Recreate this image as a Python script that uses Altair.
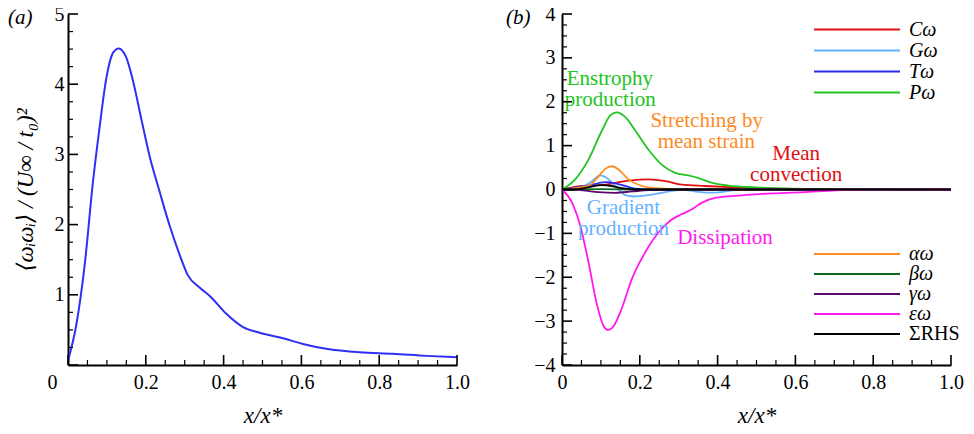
import altair as alt
import pandas as pd

FONT = "Liberation Serif, Times New Roman, Tinos, DejaVu Serif, serif"

# ---------------- panel (a): enstrophy ----------------
a_x = [0.0, 0.0216, 0.043, 0.064, 0.0815, 0.099, 0.116, 0.130, 0.150, 0.167, 0.189, 0.21,
       0.236, 0.261, 0.287, 0.308, 0.339, 0.365, 0.407, 0.45, 0.493, 0.553, 0.604, 0.664,
       0.75, 0.835, 0.921, 1.0]
a_y = [0.06, 0.58, 1.43, 2.6, 3.40, 4.10, 4.45, 4.51, 4.38, 4.05, 3.49, 2.97,
       2.46, 1.99, 1.57, 1.28, 1.10, 0.98, 0.73, 0.54, 0.46, 0.38, 0.30, 0.23,
       0.18, 0.16, 0.13, 0.11]

# ---------------- panel (b): budget terms ----------------
C_x = [0.0, 0.051, 0.111, 0.171, 0.223, 0.266, 0.308, 0.368, 0.445, 0.55, 0.7, 1.0]
C_y = [0.0, 0.08, 0.11, 0.20, 0.23, 0.19, 0.11, 0.08, 0.05, 0.02, 0.0, 0.0]

G_x = [0.0, 0.051, 0.077, 0.098, 0.12, 0.141, 0.163, 0.184, 0.223, 0.26, 0.308, 0.34,
       0.37, 0.394, 0.43, 0.47, 1.0]
G_y = [0.0, 0.06, 0.19, 0.32, 0.23, 0.04, -0.13, -0.16, -0.13, -0.07, -0.01, -0.04,
       -0.07, -0.07, -0.03, 0.0, 0.0]

T_x = [0.0, 0.034, 0.068, 0.111, 0.137, 0.163, 0.188, 0.25, 1.0]
T_y = [0.0, 0.04, 0.09, 0.17, 0.14, 0.08, 0.02, 0.0, 0.0]

P_x = [0.0, 0.034, 0.068, 0.103, 0.124, 0.141, 0.163, 0.188, 0.223, 0.257, 0.291, 0.325,
       0.351, 0.386, 0.428, 0.497, 0.6, 0.7, 1.0]
P_y = [0.0, 0.23, 0.68, 1.35, 1.69, 1.76, 1.65, 1.35, 0.90, 0.56, 0.38, 0.32,
       0.26, 0.15, 0.09, 0.05, 0.02, 0.0, 0.0]

alpha_x = [0.0, 0.068, 0.094, 0.111, 0.128, 0.146, 0.171, 0.206, 0.24, 0.3, 0.4, 1.0]
alpha_y = [0.0, 0.08, 0.30, 0.47, 0.53, 0.45, 0.23, 0.08, 0.03, 0.01, 0.0, 0.0]

beta_x = [0.0, 0.1, 0.2, 0.3, 1.0]
beta_y = [0.0, 0.01, 0.0, 0.0, 0.0]

gamma_x = [0.0, 0.043, 0.094, 0.137, 0.18, 0.223, 0.3, 1.0]
gamma_y = [0.0, -0.01, -0.06, -0.075, -0.045, -0.015, 0.0, 0.0]

eps_x = [0.0, 0.0257, 0.047, 0.068, 0.09, 0.107, 0.118, 0.133, 0.154, 0.18, 0.214, 0.248,
         0.283, 0.308, 0.334, 0.36, 0.394, 0.454, 0.54, 0.625, 0.75, 1.0]
eps_y = [0.0, -0.30, -0.83, -1.65, -2.63, -3.11, -3.2, -3.11, -2.70, -2.03, -1.43, -0.98,
         -0.68, -0.56, -0.45, -0.30, -0.19, -0.14, -0.09, -0.06, -0.01, 0.0]

rhs_x = [0.0, 0.034, 0.068, 0.101, 0.128, 0.154, 0.188, 1.0]
rhs_y = [0.0, 0.0, 0.05, 0.10, 0.08, 0.03, 0.0, 0.0]

names1 = ["Cω", "Gω", "Tω", "Pω"]
colors1 = ["#e01010", "#66b2ff", "#2a2af0", "#22c422"]
names2 = ["αω", "βω", "γω", "εω", "ΣRHS"]
colors2 = ["#ff8a1e", "#0b6b1b", "#5a0a6a", "#ff19f0", "#000000"]

ann_text = ["Enstrophy", "production", "Stretching by", "mean strain", "Mean", "convection",
            "Gradient", "production", "Dissipation"]
ann_x = [0.123, 0.124, 0.372, 0.371, 0.602, 0.602, 0.158, 0.158, 0.419]
ann_y = [2.51, 2.03, 1.56, 1.09, 0.81, 0.33, -0.43, -0.91, -1.11]
ann_col = ["#22c422", "#22c422", "#ff8a1e", "#ff8a1e", "#e01010", "#e01010",
           "#66b2ff", "#66b2ff", "#ff19f0"]

# axis tick positions
x_major = [0.0, 0.2, 0.4, 0.6, 0.8, 1.0]
x_minor = [0.05, 0.1, 0.15, 0.25, 0.3, 0.35, 0.45, 0.5, 0.55, 0.65, 0.7, 0.75, 0.85, 0.9, 0.95]
ya_major = [0, 1, 2, 3, 4, 5]
ya_minor = [k * 0.25 for k in range(21) if k % 4 != 0]
yb_major = [-4, -3, -2, -1, 0, 1, 2, 3, 4]
yb_minor = [-4 + k * 0.25 for k in range(33) if k % 4 != 0]

W, H = 389, 351
MAJ, MIN = 10, 5

xs = alt.Scale(domain=[0, 1], nice=False, zero=False)
ysa = alt.Scale(domain=[0, 5], nice=False, zero=False)
ysb = alt.Scale(domain=[-4, 4], nice=False, zero=False)

AX = dict(grid=False, ticks=False, domain=True, domainColor="black", domainWidth=2,
          labelFont=FONT, labelFontSize=20, labelColor="black", titleColor="black",
          labelOverlap=False)


def tick_layers(ys, ymaj, ymin):
    layers = []
    for vals, L, w in [(ymaj, MAJ, 1.6), (ymin, MIN, 1.2)]:
        layers.append(
            alt.Chart(pd.DataFrame({"v": vals})).mark_rule(color="black", strokeWidth=w).encode(
                y=alt.Y("v:Q", scale=ys), x=alt.value(0), x2=alt.value(L)))
    for vals, L, w in [(x_major, MAJ, 1.6), (x_minor, MIN, 1.2)]:
        layers.append(
            alt.Chart(pd.DataFrame({"v": vals})).mark_rule(color="black", strokeWidth=w).encode(
                x=alt.X("v:Q", scale=xs), y=alt.value(H), y2=alt.value(H - L)))
    return layers


def x_axis(zero_shift):
    return alt.Axis(values=x_major, title="x/x*", titleFont=FONT, titleFontSize=23,
                    titleFontStyle="italic", titleFontWeight="normal", titlePadding=12,
                    labelExpr="datum.value == 0 ? '0' : format(datum.value, '.1f')",
                    labelOffset={"condition": {"test": "datum.value === 0", "value": zero_shift},
                                 "value": 0},
                    labelFlush=False, labelPadding=7, **AX)


# ---- panel (a)
df_a = pd.DataFrame({"x": a_x, "y": a_y})
line_a = alt.Chart(df_a).mark_line(interpolate="monotone", color="#2f2ff5", strokeWidth=2,
                                   clip=True).encode(
    x=alt.X("x:Q", scale=xs, axis=x_axis(-16)),
    y=alt.Y("y:Q", scale=ysa,
            axis=alt.Axis(values=[1, 2, 3, 4, 5], format="d", title="⟨ωᵢωᵢ⟩ / (U∞ / t₀)²",
                          titleFont=FONT, titleFontSize=23, titleFontStyle="italic",
                          titleFontWeight="normal", titlePadding=17, labelPadding=4, **AX)))
lab_a = alt.Chart(pd.DataFrame({"t": ["(a)"]})).mark_text(
    font=FONT, fontSize=21, fontStyle="italic", align="left", baseline="middle", color="black"
).encode(text="t:N", x=alt.value(-60), y=alt.value(4))

panel_a = alt.layer(line_a, *tick_layers(ysa, ya_major, ya_minor), lab_a).properties(
    width=W, height=H)

# ---- panel (b)
rows1 = []
for n, xx, yy in zip(names1, [C_x, G_x, T_x, P_x], [C_y, G_y, T_y, P_y]):
    rows1 += [{"s": n, "x": a, "y": b} for a, b in zip(xx, yy)]
rows2 = []
for n, xx, yy in zip(names2, [alpha_x, beta_x, gamma_x, eps_x, rhs_x],
                     [alpha_y, beta_y, gamma_y, eps_y, rhs_y]):
    rows2 += [{"s": n, "x": a, "y": b} for a, b in zip(xx, yy)]
df1 = pd.DataFrame(rows1)
df2 = pd.DataFrame(rows2)

leg_common = dict(orient="none", title=None, symbolType="stroke", symbolSize=7396,
                  symbolStrokeWidth=2, labelFont=FONT, labelFontSize=20,
                  labelOffset=8, labelColor="black", rowPadding=0, labelLimit=200)

lines1 = alt.Chart(df1).mark_line(interpolate="monotone", strokeWidth=1.8, clip=True).encode(
    x=alt.X("x:Q", scale=xs, axis=x_axis(0)),
    y=alt.Y("y:Q", scale=ysb, axis=alt.Axis(values=yb_major, format="d", title=None,
                                            labelPadding=7, **AX)),
    color=alt.Color("s:N", scale=alt.Scale(domain=names1, range=colors1), sort=names1,
                    legend=alt.Legend(legendX=251, legendY=5, clipHeight=21,
                                      labelFontStyle="italic", **leg_common)),
)
lines2 = alt.Chart(df2).mark_line(interpolate="monotone", strokeWidth=1.8, clip=True).encode(
    x=alt.X("x:Q", scale=xs),
    y=alt.Y("y:Q", scale=ysb),
    stroke=alt.Stroke("s:N", scale=alt.Scale(domain=names2, range=colors2), sort=names2,
                      legend=alt.Legend(
                          legendX=251, legendY=230, clipHeight=20,
                          labelFontStyle={"expr": "datum.label === 'ΣRHS' ? 'normal' : 'italic'"},
                          **leg_common)),
)
df_ann = pd.DataFrame({"t": ann_text, "x": ann_x, "y": ann_y, "c": ann_col})
ann = alt.Chart(df_ann).mark_text(font=FONT, fontSize=21, align="center",
                                  baseline="middle").encode(
    x=alt.X("x:Q", scale=xs), y=alt.Y("y:Q", scale=ysb), text="t:N",
    fill=alt.Fill("c:N", scale=None))
lab_b = alt.Chart(pd.DataFrame({"t": ["(b)"]})).mark_text(
    font=FONT, fontSize=21, fontStyle="italic", align="left", baseline="middle", color="black"
).encode(text="t:N", x=alt.value(-56), y=alt.value(4))

panel_b = alt.layer(lines1, lines2, ann, *tick_layers(ysb, yb_major, yb_minor), lab_b).properties(
    width=W, height=H)

chart = alt.hconcat(panel_a, panel_b, spacing=105, bounds="flush").resolve_scale(
    color="independent", stroke="independent"
).resolve_legend(color="independent", stroke="independent").properties(
    autosize=alt.AutoSizeParams(type="none"),
    padding={"left": 60, "top": 6, "right": 898, "bottom": 410},
    background="white",
).configure_view(stroke=None)

chart.save("out.html", embed_options={"renderer": "svg", "actions": False})
